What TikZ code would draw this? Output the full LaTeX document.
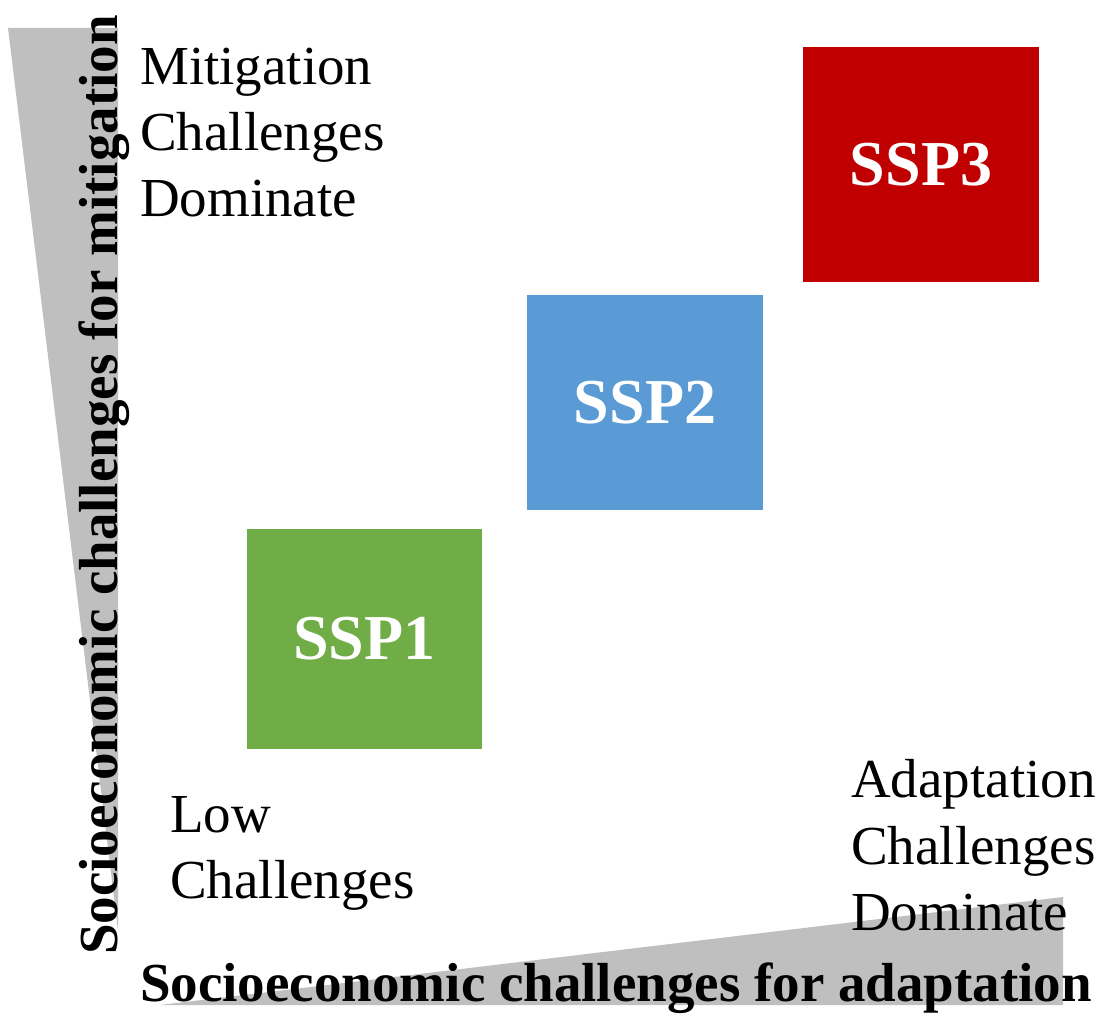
\documentclass[tikz,border=0pt]{standalone}
\usepackage{fontspec}
\setmainfont{Liberation Serif}
\definecolor{wedgegray}{HTML}{BFBFBF}
\definecolor{sspgreen}{HTML}{70AD47}
\definecolor{sspblue}{HTML}{5B9BD5}
\definecolor{sspred}{HTML}{C00000}
\begin{document}
\begin{tikzpicture}[x=1pt,y=-1pt,
  lbl/.style={anchor=base west,inner sep=0pt,font=\fontsize{55}{66}\selectfont},
  axis/.style={anchor=base west,inner sep=0pt,font=\fontsize{55}{66}\selectfont\bfseries},
  sspbox/.style={rectangle,inner sep=0pt,text=white,font=\fontsize{64}{76}\selectfont\bfseries}]
\useasboundingbox (0,0) rectangle (1107,1016);

% tapering gray wedges along both axes
\fill[wedgegray] (8,28) -- (118,28) -- (118,930) -- cycle;
\fill[wedgegray] (160,1005) -- (1063,897) -- (1063,1005) -- cycle;

% scenario boxes
\node[sspbox,fill=sspgreen,minimum width=235,minimum height=220] (ssp1) at (364.5,639) {SSP1};
\node[sspbox,fill=sspblue,minimum width=236,minimum height=215] (ssp2) at (645,402.5) {SSP2};
\node[sspbox,fill=sspred,minimum width=236,minimum height=235] (ssp3) at (921,164.5) {SSP3};

% corner captions
\node[lbl] (mit1) at (140,85) {Mitigation};
\node[lbl] (mit2) at (140,151) {Challenges};
\node[lbl] (mit3) at (140,217) {Dominate};

\node[lbl] (low1) at (170,832) {Low};
\node[lbl] (low2) at (170,898) {Challenges};

\node[lbl] (ada1) at (851,797) {Adaptation};
\node[lbl] (ada2) at (851,864) {Challenges};
\node[lbl] (ada3) at (851,930) {Dominate};

% axis titles
\node[axis,rotate=90] (yaxis) at (117,955) {Socioeconomic challenges for mitigation};
\node[axis] (xaxis) at (140,1001) {Socioeconomic challenges for adaptation};
\end{tikzpicture}
\end{document}
